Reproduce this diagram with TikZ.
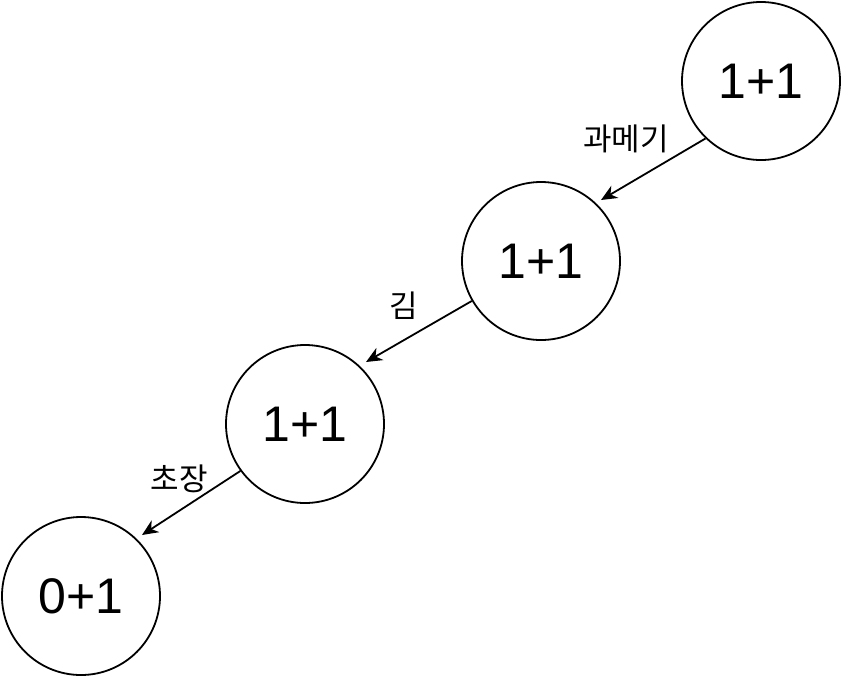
\documentclass[tikz,border=0pt]{standalone}
\usepackage{fontspec}
\setmainfont{Liberation Sans}
\newfontfamily\kofont{Noto Sans CJK KR}
\usetikzlibrary{arrows.meta}
\begin{document}
\begin{tikzpicture}[x=1pt,y=-1pt,
  state/.style={circle,draw,line width=1.8pt,minimum size=158pt,inner sep=0pt,font=\fontsize{50}{50}\selectfont},
  edge/.style={line width=1.8pt,-{Stealth[length=16pt,width=14pt,inset=5pt]}},
  lbl/.style={font=\kofont\fontsize{31}{31}\selectfont,inner sep=0pt}]
\useasboundingbox (0,0) rectangle (842,678);
\node[state] (a) at (761,81) {1+1};
\node[state] (b) at (541,261) {1+1};
\node[state] (c) at (305,424) {1+1};
\node[state] (d) at (81,596) {0+1};
\coordinate (a2) at (601,200);
\coordinate (b2) at (366,362);
\coordinate (c2) at (142,535);
\draw[edge] (a.226) -- (a2);
\draw[edge] (b.210) -- (b2);
\draw[edge] (c.216) -- (c2);
\node[lbl] (l1) at (626,139) {과메기};
\node[lbl] (l2) at (404,306) {김};
\node[lbl] (l3) at (179,479) {초장};
\end{tikzpicture}
\end{document}
